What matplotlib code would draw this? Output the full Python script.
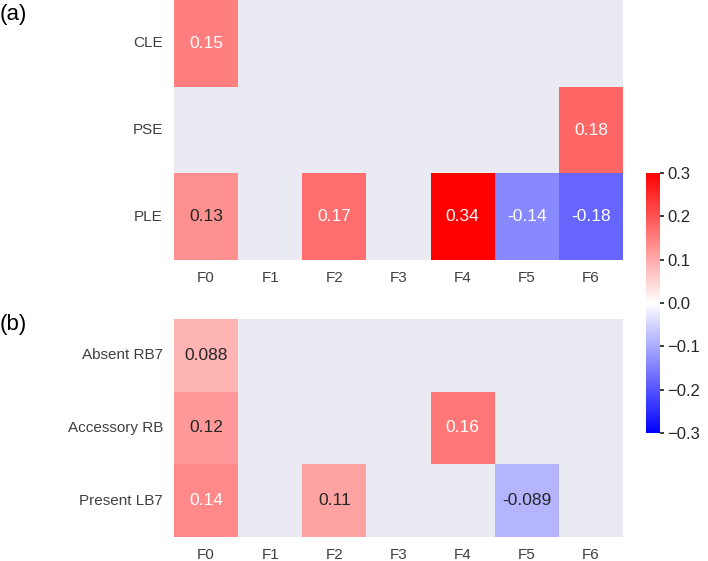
import numpy as np
import pandas as pd
import matplotlib
matplotlib.use("Agg")
import matplotlib.pyplot as plt
import seaborn as sns

sns.set_theme(style="darkgrid")
plt.rcParams['font.family'] = ['Liberation Sans', 'DejaVu Sans']
plt.rcParams['axes.grid'] = False

cols = ['F0', 'F1', 'F2', 'F3', 'F4', 'F5', 'F6']
nan = np.nan

rows_a = ['CLE', 'PSE', 'PLE']
cle = [0.15, nan, nan, nan, nan, nan, nan]
pse = [nan, nan, nan, nan, nan, nan, 0.18]
ple = [0.13, nan, 0.17, nan, 0.34, -0.14, -0.18]

rows_b = ['Absent RB7', 'Accessory RB', 'Present LB7']
absent_rb7 = [0.088, nan, nan, nan, nan, nan, nan]
accessory_rb = [0.12, nan, nan, nan, 0.16, nan, nan]
present_lb7 = [0.14, nan, 0.11, nan, nan, -0.089, nan]

df_a = pd.DataFrame([cle, pse, ple], index=rows_a, columns=cols)
df_b = pd.DataFrame([absent_rb7, accessory_rb, present_lb7], index=rows_b, columns=cols)

fig = plt.figure(figsize=(7.08, 5.61), dpi=100)
ax1 = fig.add_axes([0.2458, 0.5365, 0.6342, 0.4635])
ax2 = fig.add_axes([0.2458, 0.0428, 0.6342, 0.3886])
cax = fig.add_axes([0.9124, 0.2282, 0.0198, 0.4634])

kw = dict(cmap='bwr', vmin=-0.3, vmax=0.3, annot=True, annot_kws={'fontsize': 12.5})
sns.heatmap(df_a, ax=ax1, cbar=True, cbar_ax=cax, **kw)
sns.heatmap(df_b, ax=ax2, cbar=False, **kw)

for ax in (ax1, ax2):
    ax.grid(False)
    ax.tick_params(length=0, labelsize=11, pad=8, colors='.25')
    ax.set_yticklabels(ax.get_yticklabels(), rotation=0)
    ax.set_xticklabels(ax.get_xticklabels(), rotation=0)
    # annotation colour: light text on the stronger cells
    for t in ax.texts:
        v = abs(float(t.get_text()))
        t.set_color('white' if v >= 0.135 else '.15')

cax.set_yticks([-0.3, -0.2, -0.1, 0.0, 0.1, 0.2, 0.3])
cax.set_yticklabels(['\u22120.3', '\u22120.2', '\u22120.1', '0.0', '0.1', '0.2', '0.3'])
cax.tick_params(labelsize=12, colors='.15', length=3, pad=2)
for s in cax.spines.values():
    s.set_visible(False)

fig.text(0.0, 0.975, '(a)', fontsize=16, ha='left', va='center', color='black')
fig.text(0.0, 0.422, '(b)', fontsize=16, ha='left', va='center', color='black')

fig.savefig('out.png', dpi=100)
